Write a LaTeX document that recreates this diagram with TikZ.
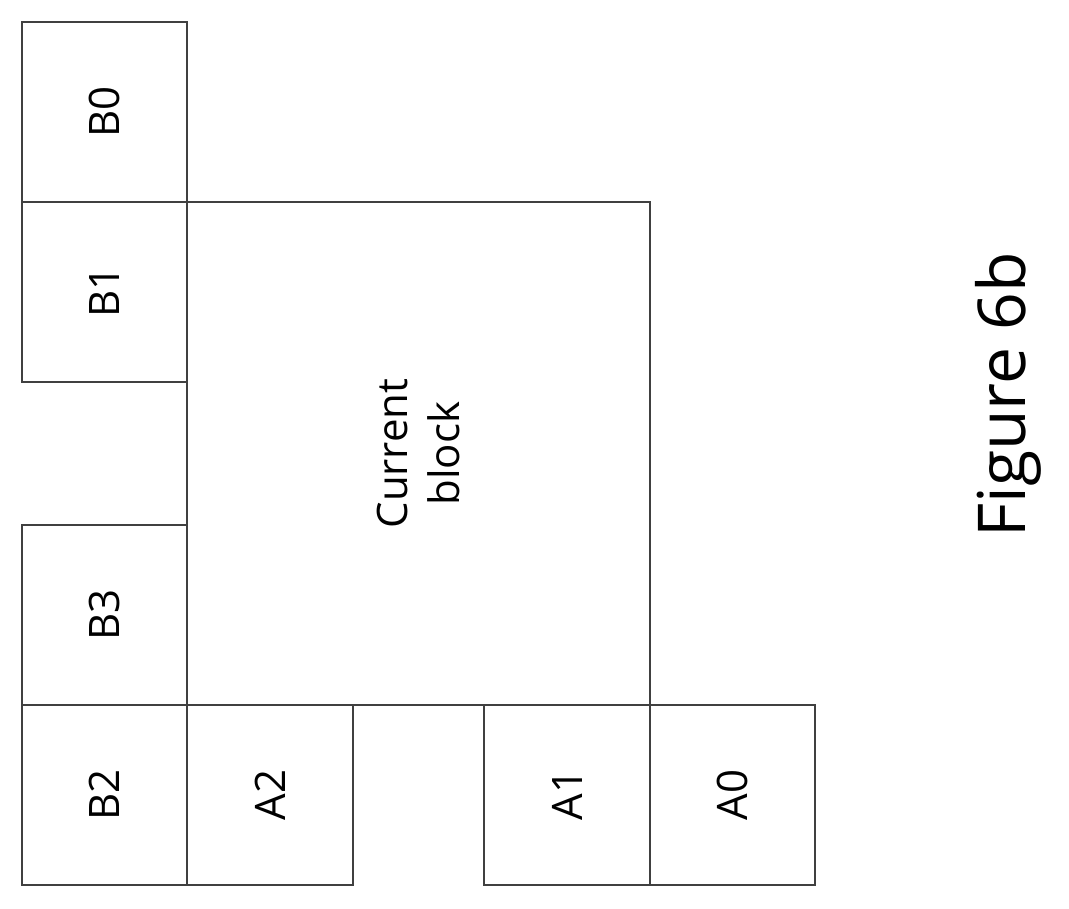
\documentclass[tikz,border=0pt]{standalone}
\usepackage{fontspec}
\setmainfont{Open Sans}
\begin{document}
\begin{tikzpicture}[x=1pt,y=1pt,
	cell/.style={draw=black!75, line width=1.2pt, rotate=90, inner sep=0pt,
		font=\fontsize{42}{52}\selectfont, align=center}]
	\useasboundingbox (0,0) rectangle (1069,-909);
	\node[cell, minimum width=180, minimum height=165] (B0) at (104.5,-112) {B0};
	\node[cell, minimum width=180, minimum height=165] (B1) at (104.5,-292) {B1};
	\node[cell, minimum width=180, minimum height=165] (B3) at (104.5,-615) {B3};
	\node[cell, minimum width=180, minimum height=165] (B2) at (104.5,-795) {B2};
	\node[cell, minimum width=503, minimum height=463] (cur) at (418.5,-453.5) {Current\\block};
	\node[cell, minimum width=180, minimum height=166] (A2) at (270,-795) {A2};
	\node[cell, minimum width=180, minimum height=166] (A1) at (567,-795) {A1};
	\node[cell, minimum width=180, minimum height=165] (A0) at (732.5,-795) {A0};
	\node[rotate=90, font=\fontsize{66}{78}\selectfont] (fig) at (1008,-395) {Figure 6b};
\end{tikzpicture}
\end{document}
